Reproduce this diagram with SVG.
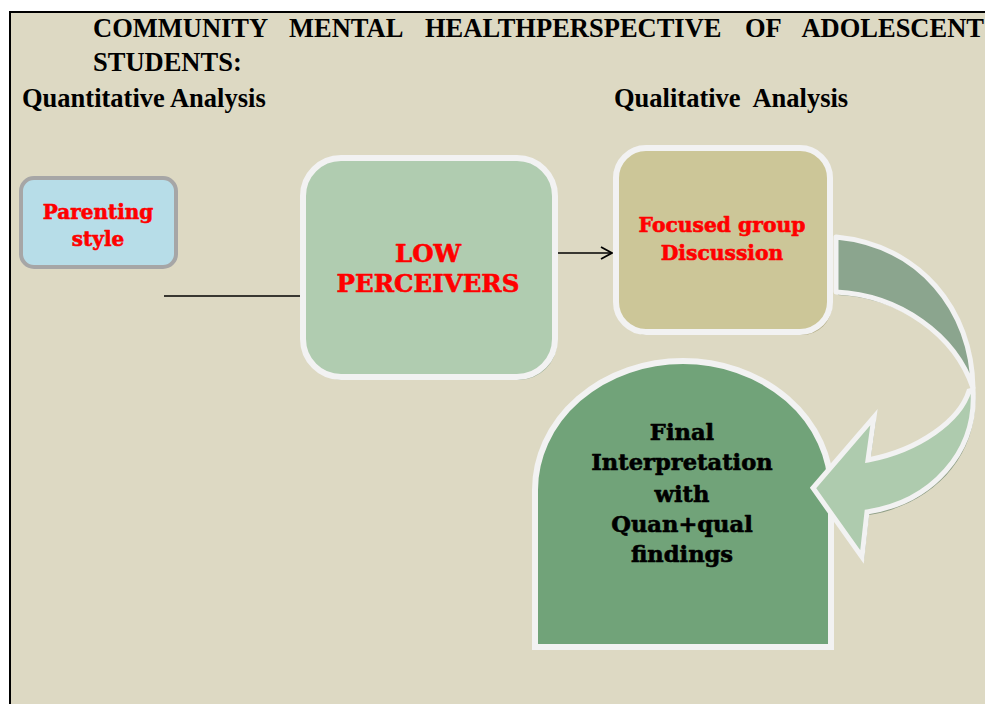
<svg xmlns="http://www.w3.org/2000/svg" width="985" height="704" viewBox="0 0 985 704">
<defs>
<style>
.title{font-family:"Liberation Serif","Times New Roman",serif;font-weight:bold;font-size:26.5px;fill:#000}
.lbl{font-family:"DejaVu Serif","Liberation Serif",serif;font-weight:bold;text-anchor:middle;stroke-width:0.6px;stroke-linejoin:round}
.red{fill:#FF0000;stroke:#FF0000}
.blk{fill:#000;stroke:#000}
.edge{stroke:#000;stroke-width:1.5;fill:none}
.wb{stroke:#F2F2F2;stroke-width:6}
</style>
<marker id="open" markerWidth="14" markerHeight="14" refX="12" refY="7" orient="auto" markerUnits="userSpaceOnUse">
<path d="M1,1 L12,7 L1,13" fill="none" stroke="#000" stroke-width="1.8"/>
</marker>
</defs>
<rect x="0" y="0" width="985" height="704" fill="#FFFFFF"/>
<rect x="10" y="12" width="975" height="692" fill="#DDD9C3"/>
<path d="M10,704 L10,12 L985,12" fill="none" stroke="#000" stroke-width="2"/>

<g id="titles" class="title">
<text x="93" y="37">COMMUNITY</text>
<text x="289" y="37">MENTAL</text>
<text x="425" y="37">HEALTHPERSPECTIVE</text>
<text x="745" y="37">OF</text>
<text x="984" y="37" text-anchor="end">ADOLESCENT</text>
<text x="93" y="71">STUDENTS:</text>
<text x="22" y="107">Quantitative Analysis</text>
<text x="614" y="107" xml:space="preserve">Qualitative  Analysis</text>
</g>

<g id="connectors">
<line class="edge" x1="164" y1="296" x2="300" y2="296"/>
<line class="edge" x1="554" y1="253" x2="612" y2="253" marker-end="url(#open)"/>
</g>

<g id="parenting">
<rect x="21" y="178" width="155" height="89" rx="13" fill="#B7DDE8" stroke="#A6A6A6" stroke-width="4"/>
<text class="lbl red" x="98" y="219" font-size="20">Parenting</text>
<text class="lbl red" x="98" y="246" font-size="20">style</text>
</g>

<g id="low">
<rect x="305" y="161" width="252" height="219" rx="38" fill="#93A98F"/>
<rect class="wb" x="303" y="158" width="252" height="219" rx="38" fill="#B0CCB0"/>
<text class="lbl red" x="428" y="262" font-size="24.5">LOW</text>
<text class="lbl red" x="428" y="292" font-size="24.5">PERCEIVERS</text>
</g>

<g id="focus">
<rect x="618" y="151" width="214" height="184" rx="30" fill="#B3AD88"/>
<rect class="wb" x="616" y="148" width="214" height="184" rx="30" fill="#CCC698"/>
<text class="lbl red" x="722" y="232" font-size="20.3">Focused group</text>
<text class="lbl red" x="722" y="260" font-size="20.3">Discussion</text>
</g>

<g id="final">
<path d="M537,650 L537,493 A148,129 0 0 1 833,493 L833,650 Z" fill="#8B9A80"/>
<path class="wb" d="M535,647 L535,490 A148,129 0 0 1 831,490 L831,647 Z" fill="#71A379"/>
<text class="lbl blk" x="682" y="440" font-size="22.6">Final</text>
<text class="lbl blk" x="682" y="470" font-size="22.6">Interpretation</text>
<text class="lbl blk" x="682" y="502" font-size="22.6">with</text>
<text class="lbl blk" x="682" y="532" font-size="22.6">Quan+qual</text>
<text class="lbl blk" x="682" y="562" font-size="22.6">findings</text>
</g>

<g id="curved-arrow">
<g transform="translate(2,3)" fill="#8E9E86">
<path d="M836,237 C920,245 972,310 973,388 C955,335 900,295 836,292 Z"/>
<path d="M973,390 C977,452 932,502 867,512 L862,557 L813,488 L874,417 L868,460 C920,450 960,420 969,391 Z"/>
</g>
<path d="M836,237 C920,245 972,310 973,388 C955,335 900,295 836,292 Z" fill="#8BA58E" stroke="#F2F2F2" stroke-width="5" stroke-linejoin="round"/>
<path d="M973,390 C977,452 932,502 867,512 L862,557 L813,488 L874,417 L868,460 C920,450 960,420 969,391 Z" fill="#AECBAE" stroke="#F2F2F2" stroke-width="5" stroke-linejoin="miter"/>
</g>
</svg>
